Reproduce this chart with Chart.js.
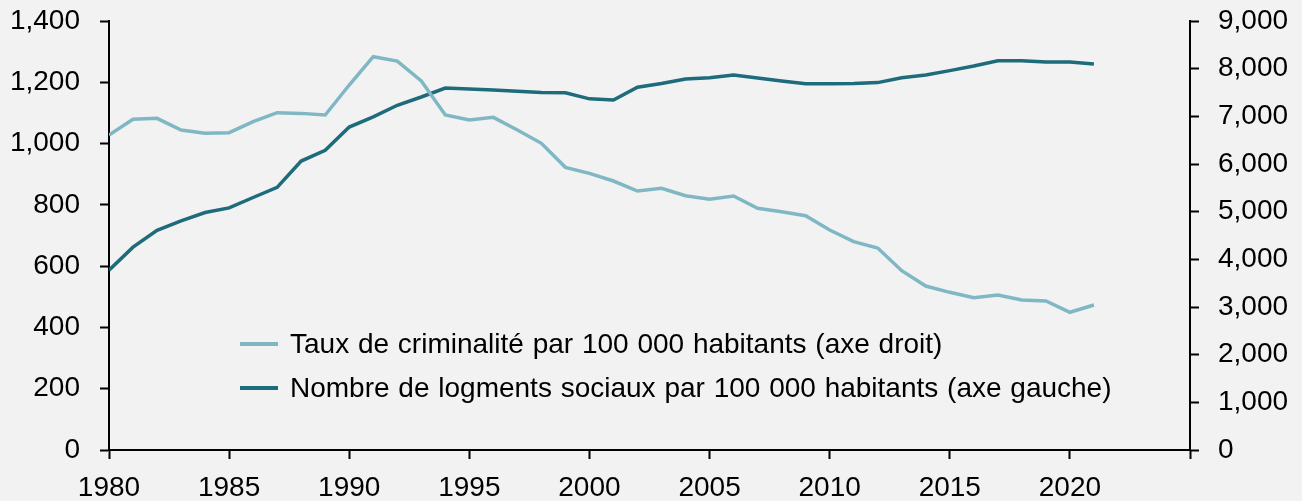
<!DOCTYPE html>
<html>
<head>
<meta charset="utf-8">
<script src="https://cdn.jsdelivr.net/npm/chart.js@4/dist/chart.umd.min.js"></script>
<style>
  html, body { margin: 0; padding: 0; background: #f2f2f2; }
  #wrap { position: relative; width: 1302px; height: 501px; }
  #legend { position: absolute; left: 240px; top: 322px; font-family: "Liberation Sans", Arial, sans-serif; font-size: 28px; color: #000; word-spacing: 1px; }
  #legend .row { display: flex; align-items: center; height: 44px; white-space: pre; }
  #legend .swatch { width: 38px; height: 4px; margin-right: 12px; }
</style>
</head>
<body>
<div id="wrap">
  <canvas id="line-chart" width="1302" height="501"></canvas>
  <div id="legend"></div>
</div>
<script>
var years = [];
for (var y = 1980; y <= 2021; y++) years.push(y);

// logements sociaux pour 100 000 habitants (axe gauche)
var housing = [587, 662, 717, 748, 775, 790, 824, 857, 943, 978,
  1054, 1087, 1125, 1152, 1181, 1178, 1175, 1171, 1167, 1166,
  1146, 1142, 1184, 1196, 1211, 1215, 1224, 1214, 1204, 1195,
  1195, 1196, 1199, 1215, 1224, 1238, 1253, 1270, 1270, 1266,
  1266, 1260];

// taux de criminalite pour 100 000 habitants (axe droit)
var crime = [6608, 6937, 6958, 6713, 6643, 6657, 6888, 7076, 7062, 7027,
  7657, 8251, 8160, 7741, 7027, 6923, 6979, 6713, 6434, 5930,
  5804, 5643, 5433, 5490, 5335, 5259, 5328, 5070, 4999, 4915,
  4615, 4370, 4238, 3761, 3440, 3308, 3195, 3251, 3147, 3126,
  2889, 3042];

var labelCrime = "Taux de criminalité par 100 000 habitants (axe droit)";
var labelHousing = "Nombre de logments sociaux par 100 000 habitants (axe gauche)";

function pts(vals) {
  var out = [];
  for (var i in vals) out.push({ x: years[i], y: vals[i] });
  return out;
}

var font = { family: "'Liberation Sans', Arial, sans-serif", size: 28 };
// tiny line height on the y axes so the top label doesn't push the plot down
var yFont = { family: "'Liberation Sans', Arial, sans-serif", size: 28, lineHeight: 0.05 };
function axisGrid() {
  return { display: true, drawOnChartArea: false, drawTicks: true, tickLength: 9, tickWidth: 2, tickColor: "#000" };
}

var chart = new Chart(document.getElementById("line-chart"), {
  type: 'line',
  data: {
    datasets: [{
      data: pts(crime),
      label: labelCrime,
      borderColor: "#7fb8c4",
      borderWidth: 3.5,
      yAxisID: 'yRight',
      pointRadius: 0,
      fill: false
    }, {
      data: pts(housing),
      label: labelHousing,
      borderColor: "#1e6b7b",
      borderWidth: 3.5,
      yAxisID: 'yLeft',
      pointRadius: 0,
      fill: false
    }]
  },
  options: {
    responsive: false,
    animation: false,
    layout: { padding: { top: 21, left: 0, right: 0, bottom: 0 } },
    plugins: { legend: { display: false }, tooltip: { enabled: false } },
    scales: {
      x: {
        type: 'linear',
        min: 1980,
        max: 2025,
        grid: axisGrid(),
        border: { display: true, color: "#000", width: 2 },
        ticks: {
          stepSize: 5,
          color: "#000",
          font: font,
          padding: 12,
          maxRotation: 0,
          callback: function (v) { return v === 2025 ? '' : String(v); }
        },
        afterFit: function (s) { s.height = 51; }
      },
      yLeft: {
        position: 'left',
        min: 0,
        max: 1400,
        grid: axisGrid(),
        border: { display: true, color: "#000", width: 2 },
        ticks: {
          stepSize: 200,
          color: "#000",
          font: yFont,
          padding: 20,
          callback: function (v) { return v.toLocaleString('en-US'); }
        },
        afterFit: function (s) { s.width = 109; }
      },
      yRight: {
        position: 'right',
        min: 0,
        max: 9000,
        grid: axisGrid(),
        border: { display: true, color: "#000", width: 2 },
        ticks: {
          stepSize: 1000,
          color: "#000",
          font: yFont,
          padding: 19,
          callback: function (v) { return v.toLocaleString('en-US'); }
        },
        afterFit: function (s) { s.width = 112; }
      }
    }
  }
});

// legend drawn from the chart's datasets
var legend = document.getElementById("legend");
chart.data.datasets.forEach(function (ds) {
  var row = document.createElement("div");
  row.className = "row";
  var sw = document.createElement("span");
  sw.className = "swatch";
  sw.style.background = ds.borderColor;
  var txt = document.createElement("span");
  txt.textContent = ds.label;
  row.appendChild(sw);
  row.appendChild(txt);
  legend.appendChild(row);
});
</script>
</body>
</html>
